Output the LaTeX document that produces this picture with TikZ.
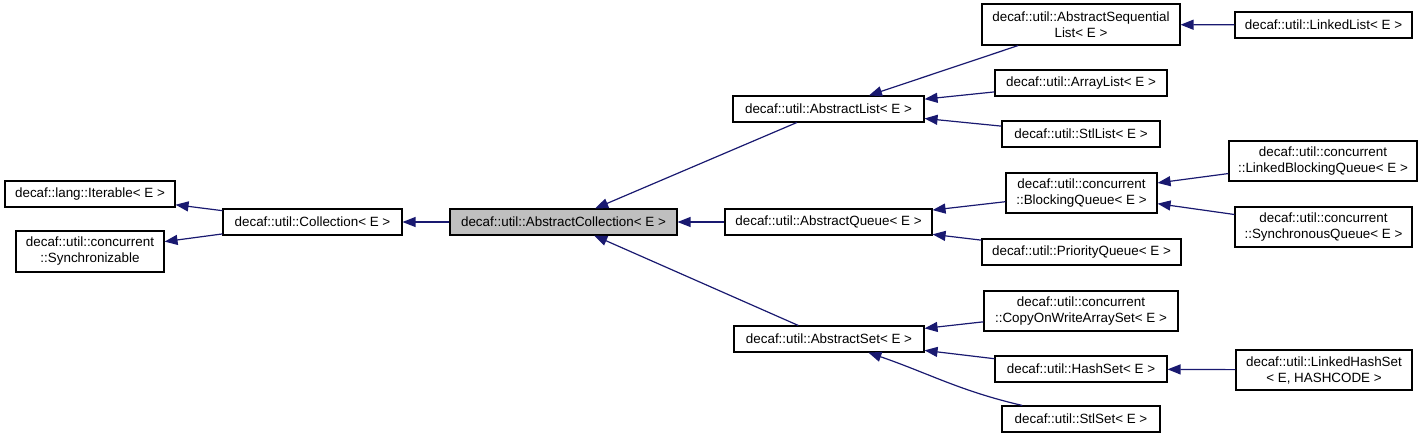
\documentclass[tikz,border=0pt]{standalone}
\usepackage{fontspec}
\setmainfont{Liberation Sans}
\usetikzlibrary{arrows.meta}
\definecolor{navyedge}{HTML}{191970}
\definecolor{boxgray}{HTML}{BFBFBF}
\tikzset{
  cls/.style={draw=black, line width=1.1pt, fill=white, inner sep=0pt, align=center,
    font=\fontsize{13.4}{16}\selectfont},
  cur/.style={cls, fill=boxgray},
  edge/.style={draw=navyedge, line width=1.2pt, -{Triangle[length=13pt,width=10pt]}}
}
\begin{document}
\begin{tikzpicture}[x=1pt,y=-1pt]
\useasboundingbox (0,0) rectangle (1424,439);
% nodes
\node[cls, minimum width=170pt, minimum height=26pt] (iter) at (90,194) {decaf::lang::Iterable< E >};
\node[cls, minimum width=148pt, minimum height=41pt] (sync) at (90,251.5) {decaf::util::concurrent\\::Synchronizable};
\node[cls, minimum width=179pt, minimum height=26pt] (coll) at (312.5,222) {decaf::util::Collection< E >};
\node[cur, minimum width=227pt, minimum height=26pt] (acoll) at (563.5,222) {decaf::util::AbstractCollection< E >};
\node[cls, minimum width=191pt, minimum height=26pt] (alist) at (828.5,109) {decaf::util::AbstractList< E >};
\node[cls, minimum width=207pt, minimum height=26pt] (aqueue) at (828.5,222) {decaf::util::AbstractQueue< E >};
\node[cls, minimum width=190pt, minimum height=26pt] (aset) at (829,339) {decaf::util::AbstractSet< E >};
\node[cls, minimum width=198pt, minimum height=41pt] (aseq) at (1081,24.5) {decaf::util::AbstractSequential\\List< E >};
\node[cls, minimum width=172pt, minimum height=26pt] (arrl) at (1081,83) {decaf::util::ArrayList< E >};
\node[cls, minimum width=158pt, minimum height=26pt] (stll) at (1081,134) {decaf::util::StlList< E >};
\node[cls, minimum width=177pt, minimum height=26pt] (llist) at (1323.5,25) {decaf::util::LinkedList< E >};
\node[cls, minimum width=151pt, minimum height=40pt] (bq) at (1081.5,193) {decaf::util::concurrent\\::BlockingQueue< E >};
\node[cls, minimum width=199pt, minimum height=26pt] (pq) at (1081.5,252) {decaf::util::PriorityQueue< E >};
\node[cls, minimum width=188pt, minimum height=40pt] (lbq) at (1323,161) {decaf::util::concurrent\\::LinkedBlockingQueue< E >};
\node[cls, minimum width=177pt, minimum height=40pt] (sq) at (1323.5,227) {decaf::util::concurrent\\::SynchronousQueue< E >};
\node[cls, minimum width=194pt, minimum height=40pt] (cow) at (1081,311) {decaf::util::concurrent\\::CopyOnWriteArraySet< E >};
\node[cls, minimum width=172pt, minimum height=26pt] (hset) at (1081,369) {decaf::util::HashSet< E >};
\node[cls, minimum width=158pt, minimum height=26pt] (stls) at (1081,419) {decaf::util::StlSet< E >};
\node[cls, minimum width=176pt, minimum height=40pt] (lhs) at (1324,370) {decaf::util::LinkedHashSet\\< E, HASHCODE >};
% edges (child -> parent)
\draw[edge] (coll) -- (iter);
\draw[edge] (coll) -- (sync);
\draw[edge] (acoll) -- (coll);
\draw[edge] (alist) -- (acoll);
\draw[edge] (aqueue) -- (acoll);
\draw[edge] (aset) -- (acoll);
\draw[edge] (aseq) -- (alist);
\draw[edge] (arrl) -- (alist);
\draw[edge] (stll) -- (alist);
\draw[edge] (llist) -- (aseq);
\draw[edge] (bq) -- (aqueue);
\draw[edge] (pq) -- (aqueue);
\draw[edge] (lbq) -- (bq);
\draw[edge] (sq) -- (bq);
\draw[edge] (cow) -- (aset);
\draw[edge] (hset) -- (aset);
\draw[edge] (stls) to[out=167, in=-19] (aset);
\draw[edge] (lhs) -- (hset);
\end{tikzpicture}
\end{document}
